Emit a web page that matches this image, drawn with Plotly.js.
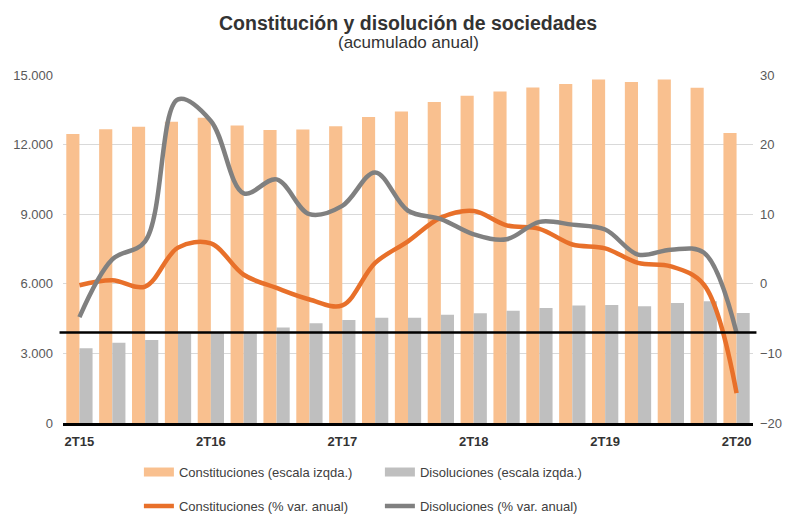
<!DOCTYPE html>
<html>
<head>
<meta charset="utf-8">
<script src="https://cdn.plot.ly/plotly-3.0.1.min.js"></script>
<style>html,body{margin:0;padding:0;background:#fff;}#chart{width:787px;height:514px;}</style>
</head>
<body>
<div id="chart"></div>
<script>
const quarters = ['2T15','3T15','4T15','1T16','2T16','3T16','4T16','1T17','2T17','3T17','4T17','1T18','2T18','3T18','4T18','1T19','2T19','3T19','4T19','1T20','2T20'];
const tickLabels = ['2T15','2T16','2T17','2T18','2T19','2T20'];
const constituciones = [12460,12660,12770,12990,13160,12820,12630,12650,12790,13190,13430,13840,14110,14290,14460,14610,14810,14700,14810,14450,12500];
const disoluciones = [3220,3460,3580,3860,3900,3930,4120,4300,4440,4540,4540,4670,4730,4840,4960,5060,5090,5030,5170,5250,4740];
const constVar = [-0.2,0.5,-0.4,5.2,5.8,1.3,-0.6,-2.25,-3.1,3.0,6.1,9.5,10.45,8.4,7.9,5.65,5.1,3.0,2.5,-0.1,-15.7];
const disVar = [-4.8,3.5,6.1,26.5,23.4,13.0,15.0,10.0,11.2,16.0,10.5,9.3,7.1,6.4,8.9,8.5,7.8,4.2,4.9,4.5,-7.05];

const names = ['Constituciones (escala izqda.)','Disoluciones (escala izqda.)','Constituciones (% var. anual)','Disoluciones (% var. anual)'];
const titleText = 'Constitución y disolución de sociedades';
const subtitleText = '(acumulado anual)';
const cBarOr = '#F9C08F', cBarGr = '#BFBFBF', cLineOr = '#E8702A', cLineGr = '#808080';
const FONT = 'Liberation Sans, Arial, sans-serif';

const traces = [
  {type:'bar', x:quarters, y:constituciones, name:names[0], marker:{color:cBarOr}, showlegend:false, yaxis:'y'},
  {type:'bar', x:quarters, y:disoluciones, name:names[1], marker:{color:cBarGr}, showlegend:false, yaxis:'y'},
  {type:'scatter', mode:'lines', x:quarters, y:constVar, name:names[2], yaxis:'y2',
   line:{color:cLineOr, width:4.5, shape:'spline', smoothing:1}, legend:'legend2'},
  {type:'scatter', mode:'lines', x:quarters, y:disVar, name:names[3], yaxis:'y2',
   line:{color:cLineGr, width:4.5, shape:'spline', smoothing:1}, legend:'legend2'},
  // legend swatches for the bar series
  {type:'scatter', mode:'lines', x:[null], y:[null], name:names[0], line:{color:cBarOr, width:9}, legend:'legend', hoverinfo:'skip'},
  {type:'scatter', mode:'lines', x:[null], y:[null], name:names[1], line:{color:cBarGr, width:9}, legend:'legend', hoverinfo:'skip'}
];

const layout = {
  width:787, height:514,
  paper_bgcolor:'#fff', plot_bgcolor:'#fff',
  font:{family:FONT, color:'#404040', size:13},
  margin:{l:63, r:34, t:75, b:91, autoexpand:false},
  annotations:[
    {text:'<b>'+titleText+'</b>', xref:'paper', yref:'paper', x:0.5, y:1.149, xanchor:'center', yanchor:'middle',
     showarrow:false, font:{family:FONT, size:19.5, color:'#333333'}},
    {text:subtitleText, xref:'paper', yref:'paper', x:0.5, y:1.092, xanchor:'center', yanchor:'middle',
     showarrow:false, font:{family:FONT, size:17, color:'#333333'}}
  ],
  barmode:'group', bargap:0.2, bargroupgap:0,
  xaxis:{type:'category', categoryorder:'array', categoryarray:quarters,
    tickvals:tickLabels, ticktext:tickLabels.map(t=>'<b>'+t+'</b>'),
    tickfont:{family:FONT, size:13, color:'#333333'}, ticks:'', showgrid:false, ticklabelstandoff:5,
    showline:true, linecolor:'#000', linewidth:2.5, zeroline:false},
  yaxis:{range:[0,15000], tickvals:[0,3000,6000,9000,12000,15000],
    ticktext:['0','3.000','6.000','9.000','12.000','15.000'],
    tickfont:{family:FONT, size:13, color:'#595959'}, showgrid:true, gridcolor:'#D9D9D9', gridwidth:1,
    zeroline:false, showline:false, ticks:'', ticklabelstandoff:9},
  yaxis2:{overlaying:'y', side:'right', range:[-20,30], tickvals:[-20,-10,0,10,20,30],
    tickfont:{family:FONT, size:13, color:'#595959'}, showgrid:false, zeroline:false, showline:false, ticks:'',
    ticklabelstandoff:6},
  shapes:[{type:'line', xref:'paper', x0:-0.005, x1:1.005, yref:'y2', y0:-7, y1:-7,
    line:{color:'#000', width:2.5}, layer:'above'}],
  legend:{orientation:'h', x:0.11, xanchor:'left', y:-0.141, yanchor:'middle',
    font:{family:FONT, size:13, color:'#404040'}, entrywidth:196, entrywidthmode:'pixels', itemwidth:30, bgcolor:'rgba(0,0,0,0)'},
  legend2:{orientation:'h', x:0.11, xanchor:'left', y:-0.239, yanchor:'middle',
    font:{family:FONT, size:13, color:'#404040'}, entrywidth:196, entrywidthmode:'pixels', itemwidth:30, bgcolor:'rgba(0,0,0,0)'}
};

Plotly.newPlot('chart', traces, layout, {displayModeBar:false, staticPlot:true});
</script>
</body>
</html>
